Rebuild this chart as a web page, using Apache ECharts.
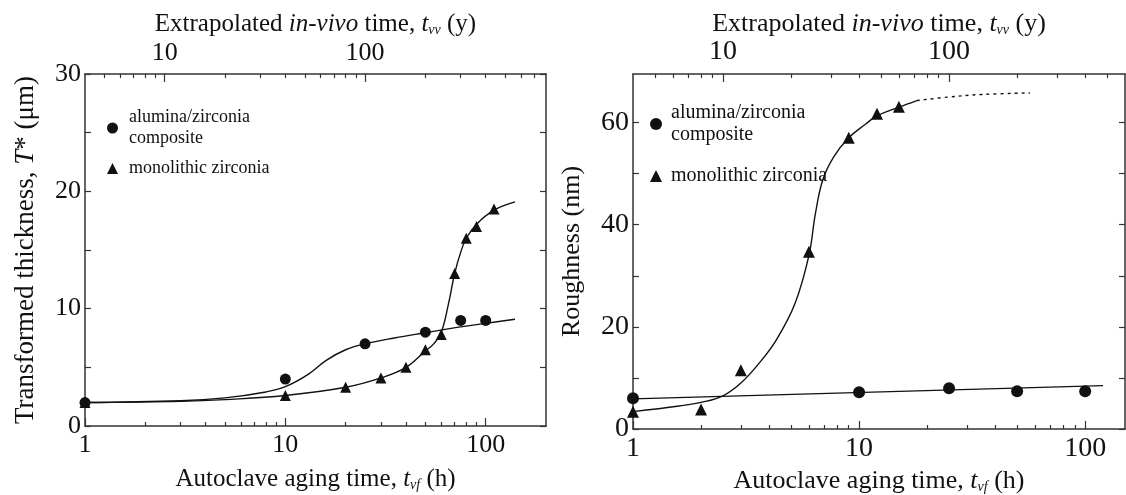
<!DOCTYPE html>
<html>
<head>
<meta charset="utf-8">
<script src="https://cdn.jsdelivr.net/npm/echarts@6/dist/echarts.min.js"></script>
<style>
  html, body { margin: 0; padding: 0; background: #fff; }
  #chart { width: 1126px; height: 495px; }
</style>
</head>
<body>
<div id="chart"></div>
<script>
// ---------- Left panel: transformed thickness T* (μm) vs autoclave time (h) ----------
const leftCompositeHours = [1, 10, 25, 50, 75, 100];
const leftCompositeThickness = [2, 4, 7, 8, 9, 9];
const leftMonolithicHours = [1, 10, 20, 30, 40, 50, 60, 70, 80, 90, 110];
const leftMonolithicThickness = [2, 2.6, 3.3, 4.1, 5, 6.5, 7.8, 13, 16, 17, 18.5];
// fitted curves
const leftCompositeFitHours = [1, 3, 5, 8, 10, 13, 16, 20, 25, 35, 50, 75, 100, 140];
const leftCompositeFitThickness = [2, 2.15, 2.4, 2.9, 3.35, 4.4, 5.6, 6.5, 7.0, 7.5, 7.95, 8.45, 8.75, 9.1];
const leftMonolithicFitHours = [1, 3, 5, 10, 20, 30, 40, 50, 55, 60, 65, 70, 75, 80, 90, 110, 140];
const leftMonolithicFitThickness = [2, 2.1, 2.25, 2.6, 3.3, 4.1, 5.0, 6.4, 7.0, 8.0, 10.3, 13, 14.8, 16, 17.2, 18.4, 19.1];

// ---------- Right panel: roughness (nm) vs autoclave time (h) ----------
const rightCompositeHours = [1, 10, 25, 50, 100];
const rightCompositeRoughness = [6.0, 7.2, 8.0, 7.4, 7.4];
const rightMonolithicHours = [1, 2, 3, 6, 9, 12, 15];
const rightMonolithicRoughness = [3.4, 3.8, 11.5, 34.7, 57, 61.7, 63.1];
const rightCompositeFitHours = [1, 120];
const rightCompositeFitRoughness = [5.9, 8.5];
const rightMonolithicFitHours = [1, 1.6, 2, 2.5, 3, 3.6, 4.3, 5.2, 6, 6.4, 6.9, 7.7, 9, 10.7, 12, 15, 18];
const rightMonolithicFitRoughness = [3.4, 4.5, 5.2, 6.5, 9.0, 12.8, 17.4, 24.5, 34, 42, 48.7, 53.2, 57, 59.7, 61.3, 63, 64.3];
const rightMonolithicExtHours = [18, 25, 35, 57];
const rightMonolithicExtRoughness = [64.3, 65.0, 65.5, 65.8];

// ---------- Axis tick values ----------
const bottomMajorTicks = [1, 10, 100];
const bottomMinorTicks = [2, 3, 4, 5, 6, 7, 8, 9, 20, 30, 40, 50, 60, 70, 80, 90];
const topMajorTicks = [10, 100];
const topMinorTicksLeft = [5, 6, 7, 8, 9, 20, 30, 40, 50, 60, 70, 80, 90, 200, 300, 400, 500, 600, 700];
const topMinorTicksRight = [5, 6, 7, 8, 9, 20, 30, 40, 50, 60, 70, 80, 90, 200, 300, 400, 500];
const leftYTicks = [0, 5, 10, 15, 20, 25, 30];
const leftYLabels = [0, 10, 20, 30];
const rightYTicks = [0, 10, 20, 30, 40, 50, 60];
const rightYLabels = [0, 20, 40, 60];

const seriesNames = ['alumina/zirconia\ncomposite', 'monolithic zirconia'];

const FONT = "'Liberation Serif', 'DejaVu Serif', serif";
const INK = '#111';
const AXIS = '#333';
const LEFT_RECT = { left: 85, top: 74, width: 461, height: 352 };
const RIGHT_RECT = { left: 633, top: 74, width: 492, height: 355 };

function zip(xs, ys) { return xs.map((x, i) => [x, ys[i]]); }

function richName(size) {
  return {
    fontFamily: FONT, fontSize: size, color: INK,
    rich: {
      i: { fontFamily: FONT, fontSize: size, fontStyle: 'italic', color: INK },
      s: { fontFamily: FONT, fontSize: Math.round(size * 0.55), fontStyle: 'italic', color: INK, verticalAlign: 'bottom', lineHeight: size }
    }
  };
}

const tickStyle = { color: AXIS, width: 1.2 };
const axisLineStyle = { show: true, onZero: false, lineStyle: { color: AXIS, width: 1.5 } };
const hiddenLine = { show: false, onZero: false };

function xAxes(grid, maxH, topMax, labelSize, nameSize, bottomGap, topGap) {
  return [
    { gridIndex: grid, type: 'log', min: 1, max: maxH, position: 'bottom',
      axisLine: axisLineStyle, splitLine: { show: false },
      axisTick: { inside: true, length: 8, customValues: bottomMajorTicks, lineStyle: tickStyle },
      axisLabel: { customValues: bottomMajorTicks, fontFamily: FONT, fontSize: labelSize, color: INK, margin: 6 },
      name: 'Autoclave aging time, {i|t}{s|vf} (h)', nameLocation: 'middle', nameGap: bottomGap,
      nameTextStyle: richName(nameSize) },
    { gridIndex: grid, type: 'log', min: 4, max: topMax, position: 'top',
      axisLine: axisLineStyle, splitLine: { show: false },
      axisTick: { inside: true, length: 8, customValues: topMajorTicks, lineStyle: tickStyle },
      axisLabel: { customValues: topMajorTicks, fontFamily: FONT, fontSize: labelSize, color: INK, margin: 8 },
      name: 'Extrapolated {i|in-vivo} time, {i|t}{s|vv} (y)', nameLocation: 'middle', nameGap: topGap,
      nameMoveOverlap: false,
      nameTextStyle: richName(nameSize) }
  ];
}

// minor-tick axes on an overlapping grid
function minorXAxes(grid, maxH, topMax, topMinor) {
  return [
    { gridIndex: grid, type: 'log', min: 1, max: maxH, position: 'bottom',
      axisLine: hiddenLine, splitLine: { show: false }, axisLabel: { show: false },
      axisTick: { show: true, inside: true, length: 4, customValues: bottomMinorTicks, lineStyle: tickStyle } },
    { gridIndex: grid, type: 'log', min: 4, max: topMax, position: 'top',
      axisLine: hiddenLine, splitLine: { show: false }, axisLabel: { show: false },
      axisTick: { show: true, inside: true, length: 4, customValues: topMinor, lineStyle: tickStyle } }
  ];
}

function yAxes(grid, maxV, ticks, labels, labelSize, name, nameSize, nameGap) {
  return [
    { gridIndex: grid, type: 'value', min: 0, max: maxV, position: 'left',
      axisLine: axisLineStyle, splitLine: { show: false },
      axisTick: { inside: true, length: 6, customValues: ticks, lineStyle: tickStyle },
      axisLabel: { customValues: labels, fontFamily: FONT, fontSize: labelSize, color: INK, margin: 4 },
      name: name, nameLocation: 'middle', nameGap: nameGap, nameTextStyle: richName(nameSize) },
    { gridIndex: grid, type: 'value', min: 0, max: maxV, position: 'right',
      axisLine: axisLineStyle, splitLine: { show: false },
      axisTick: { inside: true, length: 6, customValues: ticks, lineStyle: tickStyle },
      axisLabel: { show: false } }
  ];
}

function hiddenYAxis(grid) {
  return { gridIndex: grid, type: 'value', min: 0, max: 1, show: false };
}

function curve(name, xi, yi, data, dashed) {
  return { type: 'line', name: name, xAxisIndex: xi, yAxisIndex: yi, data: data,
    smooth: 0.4, showSymbol: false, symbol: 'none', silent: true,
    lineStyle: { color: INK, width: 1.4, type: dashed ? [3, 4] : 'solid' }, z: 2 };
}
function points(name, xi, yi, data, symbol, size) {
  return { type: 'scatter', name: name, xAxisIndex: xi, yAxisIndex: yi, data: data,
    symbol: symbol, symbolSize: size, itemStyle: { color: INK, opacity: 1 }, z: 3 };
}

const option = {
  backgroundColor: '#fff',
  animation: false,
  grid: [
    Object.assign({ outerBoundsMode: 'none' }, LEFT_RECT),
    Object.assign({ outerBoundsMode: 'none' }, RIGHT_RECT),
    Object.assign({ outerBoundsMode: 'none' }, LEFT_RECT),
    Object.assign({ outerBoundsMode: 'none' }, RIGHT_RECT)
  ],
  legend: [
    { orient: 'vertical', left: 107, top: 107, padding: 0, itemGap: 9, itemWidth: 11, itemHeight: 11,
      selectedMode: false,
      itemStyle: { opacity: 1 },
      textStyle: { fontFamily: FONT, fontSize: 18, lineHeight: 21, color: INK, padding: [0, 0, 0, 6] },
      data: [{ name: seriesNames[0], icon: 'circle' }, { name: seriesNames[1], icon: 'triangle' }] },
    { orient: 'vertical', left: 650, top: 102, padding: 0, itemGap: 19, itemWidth: 12, itemHeight: 12,
      selectedMode: false,
      itemStyle: { opacity: 1 },
      textStyle: { fontFamily: FONT, fontSize: 20, lineHeight: 22, color: INK, padding: [0, 0, 0, 4] },
      data: [{ name: seriesNames[0], icon: 'circle' }, { name: seriesNames[1], icon: 'triangle' }] }
  ],
  xAxis: [].concat(
    xAxes(0, 200, 800, 26, 25, 41, 37),          // 0,1
    xAxes(1, 150, 600, 28, 26, 36, 37),          // 2,3
    minorXAxes(2, 200, 800, topMinorTicksLeft),  // 4,5
    minorXAxes(3, 150, 600, topMinorTicksRight)  // 6,7
  ),
  yAxis: [].concat(
    yAxes(0, 30, leftYTicks, leftYLabels, 26, 'Transformed thickness, {i|T}* (μm)', 27, 46), // 0,1
    yAxes(1, 69.5, rightYTicks, rightYLabels, 28, 'Roughness (nm)', 26, 48),             // 2,3
    [hiddenYAxis(2), hiddenYAxis(3)]                                                      // 4,5
  ),
  series: [
    curve('fitL1', 0, 0, zip(leftCompositeFitHours, leftCompositeFitThickness)),
    curve('fitL2', 0, 0, zip(leftMonolithicFitHours, leftMonolithicFitThickness)),
    points(seriesNames[0], 0, 0, zip(leftCompositeHours, leftCompositeThickness), 'circle', 11),
    points(seriesNames[1], 0, 0, zip(leftMonolithicHours, leftMonolithicThickness), 'triangle', 11),
    curve('fitR1', 2, 2, zip(rightCompositeFitHours, rightCompositeFitRoughness)),
    curve('fitR2', 2, 2, zip(rightMonolithicFitHours, rightMonolithicFitRoughness)),
    curve('fitR3', 2, 2, zip(rightMonolithicExtHours, rightMonolithicExtRoughness), true),
    points(seriesNames[0], 2, 2, zip(rightCompositeHours, rightCompositeRoughness), 'circle', 12),
    points(seriesNames[1], 2, 2, zip(rightMonolithicHours, rightMonolithicRoughness), 'triangle', 12),
    // empty series binding the minor-tick grids so their axes are laid out
    { type: 'line', name: 'minorL', xAxisIndex: 4, yAxisIndex: 4, data: [], silent: true },
    { type: 'line', name: 'minorR', xAxisIndex: 6, yAxisIndex: 5, data: [], silent: true }
  ]
};

const chart = echarts.init(document.getElementById('chart'), null, { renderer: 'canvas' });
chart.setOption(option);
</script>
</body>
</html>
